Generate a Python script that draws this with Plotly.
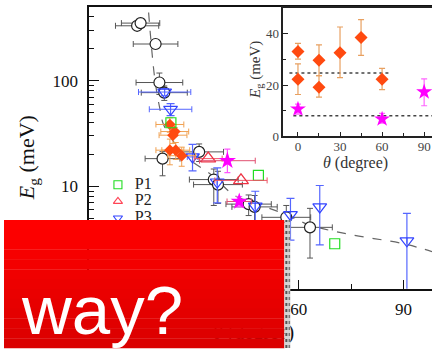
import plotly.graph_objects as go

W, H = 432, 356


def fx(x):
    return x / W


def fy(y):
    return 1 - y / H


SERIF = "Liberation Serif, Times New Roman, serif"
SANS = "Liberation Sans, Arial, sans-serif"

# ---------------- main panel data ----------------
circ_x = [13.6, 14.6, 18.9, 20.0, 21.4, 20.9, 31.4, 35.6, 36.8, 45.6, 47.3, 56.4, 63.2]
circ_y = [330, 350, 222, 96, 77, 18.3, 21.2, 11.6, 10.4, 6.8, 6.4, 5.1, 4.1]
circ_xerr = [6.2, 5.5, 6.4, 6.7, 6.6, 5.0, 7.0, 7.0, 7.0, 6.5, 6.5, 7.0, 6.4]
circ_yerr_p = [25, 20, 15, 22, 12, 3.0, 4.0, 3.0, 3.5, 1.5, 1.8, 1.5, 2.1]
circ_yerr_m = [25, 20, 15, 22, 12, 5.7, 4.0, 5.0, 3.5, 1.5, 1.8, 1.5, 2.0]

p1_x = [23.3, 48.4, 70.3]
p1_y = [40, 12.7, 2.87]

p2_x = [34.0, 43.4]
p2_y = [18.3, 11.4]
p2_xerr = [4.0, 7.5]

p3_x = [21.5, 23.2, 29.5, 36.6, 47.5, 57.6, 66.0, 91.0]
p3_y = [78, 53.6, 19, 11, 6.5, 5.4, 6.4, 3.06]
p3_xerr = [7.5, 6.1, 1.5, 0, 0, 0, 0, 0]
p3_yerr_p = [6, 7, 6, 4, 2.5, 2.3, 3.8, 2.5]
p3_yerr_m = [6, 7, 5, 4, 2.5, 2.3, 3.6, 2.1]

star_x = [39.5, 42.9]
star_y = [17.5, 7.2]
star_xerr = [8.0, 3.5]
star_yerr_p = [5.0, 0.8]
star_yerr_m = [4.0, 0.8]

orng_x = [23.0, 24.4, 23.9, 23.0, 24.7, 26.4]
orng_y = [38.5, 33, 30.5, 22, 22, 19.5]
orng_xerr = [4, 4, 4, 4, 4, 4]
orng_yerr = [6, 3, 5, 6, 4, 4]

fit_x = [16.9, 18.6, 20.0, 21.4, 27.4, 35.1, 41.6, 49.3, 56.4, 63.2, 74.9, 90.0, 98.2]
fit_y = [441, 109, 57, 37, 19.5, 12.7, 8.2, 6.6, 5.4, 4.3, 3.5, 2.87, 2.42]

main_xticks = [0, 30, 60, 90]
main_xminor = [15, 45, 75]

# ---------------- inset data ----------------
in_orng_x = [0, 0, 15, 15, 30, 45, 60]
in_orng_y = [33.1, 22.3, 29.7, 19.1, 32.6, 38.6, 22.3]
in_orng_ep = [3.2, 6.0, 6.0, 4.6, 10.1, 7.0, 4.2]
in_orng_em = [3.0, 6.0, 6.0, 3.8, 9.7, 7.0, 4.1]

in_star_x = [0, 60, 90]
in_star_y = [10.6, 6.7, 17.3]
in_star_ep = [1.9, 2.2, 5.1]
in_star_em = [2.0, 1.6, 5.4]

hline_hi_x = [-6.1, 65.9]
hline_hi_y = [24.7, 24.7]
hline_lo_x = [-3.3, 100]
hline_lo_y = [8.0, 8.0]

in_xticks = [0, 30, 60, 90]
in_xminor = [15, 45, 75]
in_yticks = [0, 20, 40]
in_yminor = [10, 30]

legend_names = ["P1", "P2", "P3"]

fig = go.Figure()

# fit line
fig.add_trace(go.Scatter(x=fit_x, y=fit_y, mode="lines", line=dict(color="#666", width=1.2, dash="dash"),
                         line_shape="spline", showlegend=False, xaxis="x", yaxis="y"))

# circles
fig.add_trace(go.Scatter(
    x=circ_x, y=circ_y, mode="markers",
    marker=dict(symbol="circle", size=11, color="white", line=dict(color="#222", width=1.2)),
    error_x=dict(type="data", array=circ_xerr, color="#555", thickness=1, width=3),
    error_y=dict(type="data", array=circ_yerr_p, arrayminus=circ_yerr_m, color="#555", thickness=1, width=3),
    showlegend=False, xaxis="x", yaxis="y"))

# P3 blue triangles
fig.add_trace(go.Scatter(
    x=p3_x, y=p3_y, mode="markers",
    marker=dict(symbol="triangle-down-open", size=12, color="#3344ff", line=dict(width=1.2)),
    error_x=dict(type="data", array=p3_xerr, color="#5566ff", thickness=1, width=3),
    error_y=dict(type="data", array=p3_yerr_p, arrayminus=p3_yerr_m, color="#5566ff", thickness=1.2, width=4),
    showlegend=False, xaxis="x", yaxis="y"))

# orange
fig.add_trace(go.Scatter(
    x=orng_x, y=orng_y, mode="markers",
    marker=dict(symbol="diamond", size=9, color="#ff4a10"),
    error_x=dict(type="data", array=orng_xerr, color="#f0a050", thickness=1, width=3),
    error_y=dict(type="data", array=orng_yerr, color="#f0a050", thickness=1, width=3),
    showlegend=False, xaxis="x", yaxis="y"))

# P1 green squares
fig.add_trace(go.Scatter(
    x=p1_x, y=p1_y, mode="markers",
    marker=dict(symbol="square-open", size=10, color="#22dd22", line=dict(width=1.2)),
    showlegend=False, xaxis="x", yaxis="y"))

# P2 red triangles
fig.add_trace(go.Scatter(
    x=p2_x, y=p2_y, mode="markers",
    marker=dict(symbol="triangle-up-open", size=13, color="#ee3344", line=dict(width=1.3)),
    error_x=dict(type="data", array=p2_xerr, color="#ee5566", thickness=1, width=3),
    showlegend=False, xaxis="x", yaxis="y"))

# stars
fig.add_trace(go.Scatter(
    x=star_x, y=star_y, mode="markers",
    marker=dict(symbol="star", size=13, color="#ff00ff"),
    error_x=dict(type="data", array=star_xerr, color="#e05070", thickness=1, width=3),
    error_y=dict(type="data", array=star_yerr_p, arrayminus=star_yerr_m, color="#ff55ff", thickness=1.2, width=3),
    showlegend=False, xaxis="x", yaxis="y"))

# ---------------- inset traces ----------------
fig.add_trace(go.Scatter(x=hline_hi_x, y=hline_hi_y, mode="lines",
                         line=dict(color="#444", width=1.5, dash="dot"), showlegend=False, xaxis="x2", yaxis="y2"))
fig.add_trace(go.Scatter(x=hline_lo_x, y=hline_lo_y, mode="lines",
                         line=dict(color="#444", width=1.5, dash="dot"), showlegend=False, xaxis="x2", yaxis="y2"))
fig.add_trace(go.Scatter(
    x=in_orng_x, y=in_orng_y, mode="markers",
    marker=dict(symbol="diamond", size=10, color="#ff4a10"),
    error_y=dict(type="data", array=in_orng_ep, arrayminus=in_orng_em, color="#e8a060", thickness=1.2, width=3),
    showlegend=False, xaxis="x2", yaxis="y2"))
fig.add_trace(go.Scatter(
    x=in_star_x, y=in_star_y, mode="markers",
    marker=dict(symbol="star", size=12, color="#ff00ff"),
    error_y=dict(type="data", array=in_star_ep, arrayminus=in_star_em, color="#ff66ff", thickness=1.2, width=3),
    showlegend=False, xaxis="x2", yaxis="y2"))

# ---------------- overlay (pixel) axes: legend + main x title ----------------
leg_mx = [115, 115, 115]
leg_my = [189, 206, 223]
leg_tx = [132, 132, 132]
fig.add_trace(go.Scatter(
    x=leg_mx, y=leg_my, mode="markers",
    marker=dict(symbol=["square-open", "triangle-up-open", "triangle-down-open"], size=8,
                color=["#22dd22", "#ff4455", "#3344ff"], line=dict(width=1.1)),
    showlegend=False, xaxis="x3", yaxis="y3", cliponaxis=False))
fig.add_trace(go.Scatter(
    x=leg_tx, y=leg_my, mode="text", text=legend_names, textposition="middle right",
    textfont=dict(family=SERIF, size=16, color="#222"),
    showlegend=False, xaxis="x3", yaxis="y3", cliponaxis=False))
fig.add_trace(go.Scatter(
    x=[293], y=[342], mode="text", text=["<i>θ</i> (degree)"], textposition="middle left",
    textfont=dict(family=SERIF, size=20, color="#111"),
    showlegend=False, xaxis="x3", yaxis="y3", cliponaxis=False))

# ---------------- shapes: red banner ----------------
shapes = []
top, bot = 225, 356
n = 13
for i in range(n):
    y0 = top + (bot - top) * i / n
    y1 = top + (bot - top) * (i + 1) / n
    g = int(255 - 36 * i / (n - 1))
    shapes.append(dict(type="rect", xref="paper", yref="paper", x0=fx(0), x1=fx(283),
                       y0=fy(y1) - 0.001, y1=fy(y0), fillcolor=f"rgb({g},0,0)",
                       line=dict(width=0), layer="above"))
shapes.append(dict(type="rect", xref="paper", yref="paper", x0=fx(283), x1=fx(289),
                   y0=fy(356), y1=fy(225), fillcolor="#d4d4d4", line=dict(width=0), layer="above"))
shapes.append(dict(type="line", xref="paper", yref="paper", x0=fx(285), x1=fx(285),
                   y0=fy(356), y1=fy(225), line=dict(color="#555", width=2, dash="dot"), layer="above"))
shapes.append(dict(type="line", xref="paper", yref="paper", x0=fx(288), x1=fx(288),
                   y0=fy(356), y1=fy(225), line=dict(color="#777", width=1.5, dash="dot"), layer="above"))

annotations = [
    dict(text="way?", xref="paper", yref="paper", x=fx(15), y=fy(318), xanchor="left", yanchor="middle",
         showarrow=False, font=dict(family=SANS, size=69, color="white")),
    dict(text="<i>E</i><sub>g</sub> (meV)", xref="paper", yref="paper", x=fx(25), y=fy(161),
         xanchor="center", yanchor="middle", textangle=-90, showarrow=False,
         font=dict(family=SERIF, size=22, color="#111")),
    dict(text="<i>E</i><sub>g</sub> (meV)", xref="paper", yref="paper", x=fx(255), y=fy(72),
         xanchor="center", yanchor="middle", textangle=-90, showarrow=False,
         font=dict(family=SERIF, size=15, color="#333")),
    dict(text="<i>θ</i> (degree)", xref="paper", yref="paper", x=fx(355), y=fy(167),
         xanchor="center", yanchor="middle", showarrow=False,
         font=dict(family=SERIF, size=16, color="#333")),
]

fig.update_layout(
    width=W, height=H, autosize=False,
    margin=dict(l=0, r=0, t=0, b=0, pad=0),
    paper_bgcolor="white", plot_bgcolor="rgba(0,0,0,0)",
    showlegend=False,
    xaxis=dict(domain=[fx(86), 1.0], range=[-0.14, 98.2], showline=True, mirror=True,
               linecolor="#111", linewidth=1.5, ticks="inside", ticklen=9, tickwidth=1.3, tickcolor="#111",
               tickvals=main_xticks, ticktext=[str(v) for v in main_xticks],
               minor=dict(tickvals=main_xminor, ticks="inside", ticklen=5, tickcolor="#111", tickwidth=1.2),
               showgrid=False, zeroline=False, ticklabelstandoff=4,
               tickfont=dict(family=SERIF, size=17, color="#111")),
    yaxis=dict(domain=[fy(295.3), fy(7.3)], type="log", range=[0.033, 2.695], showline=True, mirror=False,
               linecolor="#111", linewidth=1.5, ticks="inside", ticklen=10, tickwidth=1.3, tickcolor="#111",
               dtick=1, minor=dict(ticks="inside", ticklen=5, dtick="D1", tickcolor="#111", tickwidth=1.1),
               showgrid=False, zeroline=False, ticklabelstandoff=6,
               tickfont=dict(family=SERIF, size=17, color="#111")),
    xaxis2=dict(domain=[fx(282), 1.0], range=[-10.4, 95.6], anchor="y2", showline=True, mirror=True,
                linecolor="#222", linewidth=1.5, ticks="inside", ticklen=4, tickcolor="#222",
                tickvals=in_xticks, ticktext=[str(v) for v in in_xticks],
                minor=dict(tickvals=in_xminor, ticks="inside", ticklen=3, tickcolor="#222"),
                showgrid=False, zeroline=False, ticklabelstandoff=-3,
                tickfont=dict(family=SERIF, size=13, color="#444")),
    yaxis2=dict(domain=[fy(139.3), fy(8)], range=[0, 50.2], anchor="x2", showline=True, mirror=False,
                linecolor="#222", linewidth=1.5, ticks="inside", ticklen=5, tickcolor="#222",
                tickvals=in_yticks, ticktext=[str(v) for v in in_yticks],
                minor=dict(tickvals=in_yminor, ticks="inside", ticklen=3, tickcolor="#222"),
                showgrid=False, zeroline=False,
                tickfont=dict(family=SERIF, size=13, color="#444")),
    xaxis3=dict(domain=[0, 1], range=[0, W], anchor="y3", visible=False),
    yaxis3=dict(domain=[0, 1], range=[H, 0], anchor="x3", visible=False),
    shapes=shapes,
    annotations=annotations,
)

fig.write_html("out.html", config=dict(displayModeBar=False),
               post_script="document.body.style.margin='0px';document.body.style.padding='0px';")
